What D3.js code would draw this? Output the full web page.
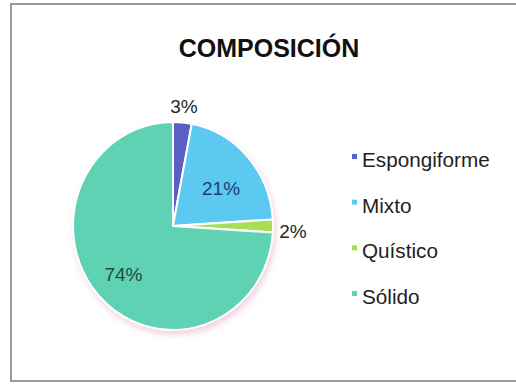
<!DOCTYPE html>
<html>
<head>
<meta charset="utf-8">
<script src="https://cdn.jsdelivr.net/npm/d3@7/dist/d3.min.js"></script>
<style>
  html, body { margin: 0; padding: 0; background: #fff; }
  svg { display: block; font-family: "Liberation Sans", Arial, sans-serif; }
</style>
</head>
<body>
<svg id="chart" width="516" height="387"></svg>
<script>
// Composition categories and their shares (%)
const categories = ["Espongiforme", "Mixto", "Quístico", "Sólido"];
const values = [3, 21, 2, 74];
const colors = ["#5a5fc4", "#5cc9f1", "#a6df55", "#5fd2b4"];
const labelColors = ["#262626", "#1f3d70", "#262626", "#1b4c3d"];
const title = "COMPOSICIÓN";

const svg = d3.select("#chart");

// Chart frame
svg.append("rect")
  .attr("x", 11).attr("y", 4)
  .attr("width", 510).attr("height", 377)
  .attr("fill", "#fff")
  .attr("stroke", "#9a9a9a")
  .attr("stroke-width", 2);

// Title
svg.append("text")
  .attr("x", 269).attr("y", 57)
  .attr("text-anchor", "middle")
  .attr("font-size", 25)
  .attr("font-weight", "bold")
  .attr("fill", "#111")
  .text(title);

// Soft shadow under the pie
const defs = svg.append("defs");
const f = defs.append("filter").attr("id", "shadow")
  .attr("x", "-20%").attr("y", "-20%").attr("width", "140%").attr("height", "140%");
f.append("feGaussianBlur").attr("in", "SourceAlpha").attr("stdDeviation", 3).attr("result", "b");
f.append("feOffset").attr("in", "b").attr("dx", 2).attr("dy", 4).attr("result", "o");
f.append("feFlood").attr("flood-color", "#e9b8c8").attr("flood-opacity", 0.6).attr("result", "c");
f.append("feComposite").attr("in", "c").attr("in2", "o").attr("operator", "in").attr("result", "s");
const m = f.append("feMerge");
m.append("feMergeNode").attr("in", "s");
m.append("feMergeNode").attr("in", "SourceGraphic");

const cx = 173, cy = 226, r = 100, sy = 1.04;

const pie = d3.pie().sort(null).value(d => d)(values);
const arc = d3.arc().innerRadius(0).outerRadius(r);

const g = svg.append("g")
  .attr("transform", `translate(${cx},${cy}) scale(1,${sy})`)
  .attr("filter", "url(#shadow)");

g.selectAll("path")
  .data(pie)
  .join("path")
  .attr("d", arc)
  .attr("fill", (d, i) => colors[i])
  .attr("stroke", "#fff")
  .attr("stroke-width", 2)
  .attr("stroke-linejoin", "round");

// Percentage labels: small slices outside the rim, large slices inside
const labelRadius = [1.16, 0.64, 1.2, 0.68];
const labelNudge = [0, 6, 5, 0];

svg.append("g")
  .selectAll("text")
  .data(pie)
  .join("text")
  .attr("transform", (d, i) => {
    const rr = r * labelRadius[i];
    const [x, y] = d3.arc().innerRadius(rr).outerRadius(rr).centroid(d);
    return `translate(${cx + x},${cy + y * sy + labelNudge[i]})`;
  })
  .attr("text-anchor", "middle")
  .attr("dy", "0.35em")
  .attr("font-size", 19)
  .attr("fill", (d, i) => labelColors[i])
  .text(d => d.data + "%");

// Legend
const legend = svg.append("g").attr("transform", "translate(352,0)");
const rowY = d3.scalePoint().domain(categories).range([167, 304]);
const rows = legend.selectAll("g")
  .data(categories)
  .join("g")
  .attr("transform", d => `translate(0,${rowY(d)})`);
rows.append("rect")
  .attr("x", 0).attr("y", -13)
  .attr("width", 5).attr("height", 5)
  .attr("fill", (d, i) => colors[i]);
rows.append("text")
  .attr("x", 10).attr("y", 0)
  .attr("font-size", 20.7)
  .attr("fill", "#222")
  .text(d => d);
</script>
</body>
</html>
